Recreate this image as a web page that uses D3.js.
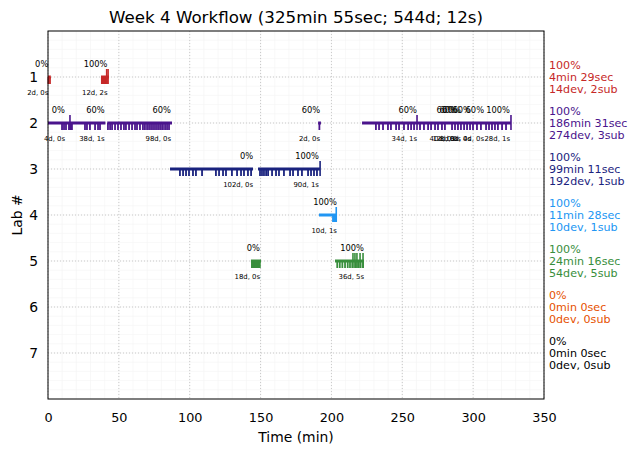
<!DOCTYPE html>
<html>
<head>
<meta charset="utf-8">
<script src="https://cdn.jsdelivr.net/npm/d3@7"></script>
<style>
  body { margin: 0; background: #fff; }
  text { font-family: "DejaVu Sans", sans-serif; }
</style>
</head>
<body>
<svg id="chart" width="637" height="453"></svg>
<script>
// ---------- data ----------
const labs = [1, 2, 3, 4, 5, 6, 7];
const labColors = ["#c62828", "#4a148c", "#1a237e", "#2196f3", "#388e3c", "#e65100", "#000000"];
const labPct = ["100%", "100%", "100%", "100%", "100%", "0%", "0%"];
const labTime = ["4min 29sec", "186min 31sec", "99min 11sec", "11min 28sec", "24min 16sec", "0min 0sec", "0min 0sec"];
const labWork = ["14dev, 2sub", "274dev, 3sub", "192dev, 1sub", "10dev, 1sub", "54dev, 5sub", "0dev, 0sub", "0dev, 0sub"];

const xTicks = [0, 50, 100, 150, 200, 250, 300, 350];
const yTicks = [1, 2, 3, 4, 5, 6, 7];

// sessions: [lab, start, end] (min)
const sessions = [
  [1, 0, 2], [1, 37.4, 43],
  [2, 0, 40.5], [2, 41.8, 87.5], [2, 190.6, 192.6], [2, 221.6, 326.7],
  [3, 86.1, 144.7], [3, 148.2, 191.9],
  [4, 191.2, 203.9],
  [5, 143.2, 150.3], [5, 202.5, 223.0]
];

// device events per lab (min)
const devices1 = [0.3, 1.4, 38.0, 38.6, 39.2, 39.8, 40.4, 41.0, 41.6];
const devices2 = [9.9, 11.3, 12.7, 14.8, 16.2, 16.9, 26.1, 27.5, 29.6, 33.2, 35.3, 36.7,
  42.3, 43.8, 45.2, 47.3, 49.4, 51.5, 53.6, 55.0, 57.2, 59.3, 61.4, 62.8, 64.9, 67.0, 68.4,
  69.9, 71.3, 72.7, 74.1, 75.5, 76.9, 78.3, 79.7, 81.1, 82.6, 84.0, 85.4, 191.5,
  231.4, 233.6, 236.4, 239.9, 242.0, 245.6, 247.7, 251.2, 254.1, 256.2, 258.3, 262.5, 265.3,
  268.2, 270.3, 273.1, 275.2, 278.0, 280.1, 285.1, 287.2, 289.3, 291.4, 293.6, 295.7, 297.8,
  299.9, 302.7, 305.5, 309.1, 311.2, 313.3, 315.4, 317.5, 320.4, 323.2];
const devices3 = [93.1, 95.3, 97.4, 99.5, 102.3, 104.4, 108.7, 118.5, 120.7, 123.5, 125.6,
  129.8, 133.4, 136.2, 138.3, 141.1, 143.3, 149.6, 151.0, 152.4, 153.9, 155.3, 158.1, 160.9,
  163.0, 166.5, 170.8, 172.9, 176.4, 179.2, 183.5, 185.6, 187.7, 189.8];
const devices4 = [201.1, 201.8, 202.5, 203.2];
const devices5 = [143.9, 144.6, 145.3, 146.0, 146.7, 147.4, 148.1, 148.8, 149.5,
  204.1, 205.9, 207.7, 209.6, 211.5, 213.1, 214.7, 217.1, 218.9, 220.6, 222.3];
const devices = [devices1, devices2, devices3, devices4, devices5, [], []];

// submissions per lab (min)
const submissions = [[41.4, 42.4], [15.5, 260.4, 326.7], [192.0], [203.4],
  [215.2, 216.6, 218.0, 220.2, 222.3], [], []];

// interval annotations: [lab, time, pct, counts]
const annotations = [
  [1, 0.2, "0%", "2d, 0s"], [1, 42.0, "100%", "12d, 2s"],
  [2, 12.0, "0%", "4d, 0s"], [2, 40.0, "60%", "38d, 1s"], [2, 86.8, "60%", "98d, 0s"],
  [2, 192.0, "60%", "2d, 0s"], [2, 260.4, "60%", "34d, 1s"], [2, 287.2, "60%", "40d, 0s"],
  [2, 289.3, "60%", "12d, 0s"], [2, 291.4, "60%", "8d, 0s"], [2, 298.5, "60%", "6d, 0s"],
  [2, 307.7, "60%", "4d, 0s"], [2, 326.0, "100%", "28d, 1s"],
  [3, 144.7, "0%", "102d, 0s"], [3, 191.2, "100%", "90d, 1s"],
  [4, 203.9, "100%", "10d, 1s"],
  [5, 149.6, "0%", "18d, 0s"], [5, 223.0, "100%", "36d, 5s"]
];

// ---------- drawing ----------
const svg = d3.select("#chart");
const L = 48, R = 544, T = 31, B = 399;
const x = d3.scaleLinear().domain([0, 350]).range([L, R]);
const y = d3.scaleLinear().domain([0, 8]).range([T, B]);

// minor grid
const g = svg.append("g");
g.selectAll(".mx").data(d3.range(0, 351, 10)).enter().append("line")
  .attr("x1", d => x(d)).attr("x2", d => x(d)).attr("y1", T).attr("y2", B)
  .attr("stroke", "#f3f3f3").attr("stroke-width", 0.6);
g.selectAll(".my").data(d3.range(0, 8.01, 0.2)).enter().append("line")
  .attr("y1", d => y(d)).attr("y2", d => y(d)).attr("x1", L).attr("x2", R)
  .attr("stroke", "#f3f3f3").attr("stroke-width", 0.6);

// major grid
g.selectAll(".gx").data(xTicks).enter().append("line")
  .attr("x1", d => x(d)).attr("x2", d => x(d)).attr("y1", T).attr("y2", B)
  .attr("stroke", "#bdbdbd").attr("stroke-width", 0.8).attr("stroke-dasharray", "1,2");
g.selectAll(".gy").data(yTicks).enter().append("line")
  .attr("y1", d => y(d)).attr("y2", d => y(d)).attr("x1", L).attr("x2", R)
  .attr("stroke", "#bdbdbd").attr("stroke-width", 0.8).attr("stroke-dasharray", "1,2");

// sessions
svg.append("g").selectAll("line").data(sessions).enter().append("line")
  .attr("x1", d => x(d[1])).attr("x2", d => x(d[2]))
  .attr("y1", d => y(d[0])).attr("y2", d => y(d[0]))
  .attr("stroke", d => labColors[d[0] - 1]).attr("stroke-width", 3);

// device ticks and submission ticks
labs.forEach((lab, i) => {
  svg.append("g").selectAll("line").data(devices[i]).enter().append("line")
    .attr("x1", d => x(d)).attr("x2", d => x(d))
    .attr("y1", y(lab)).attr("y2", y(lab) + 7)
    .attr("stroke", labColors[i]).attr("stroke-width", 1.8);
  svg.append("g").selectAll("line").data(submissions[i]).enter().append("line")
    .attr("x1", d => x(d)).attr("x2", d => x(d))
    .attr("y1", y(lab) - 8).attr("y2", y(lab) + 7)
    .attr("stroke", labColors[i]).attr("stroke-width", 1.6);
});

// annotations
const ag = svg.append("g");
ag.selectAll(".p").data(annotations).enter().append("text")
  .attr("x", d => x(d[1])).attr("y", d => y(d[0]) - 13)
  .attr("text-anchor", "end").attr("dominant-baseline", "central")
  .attr("font-size", 8.3).attr("fill", "#000").text(d => d[2]);
ag.selectAll(".c").data(annotations).enter().append("text")
  .attr("x", d => x(d[1])).attr("y", d => y(d[0]) + 16)
  .attr("text-anchor", "end").attr("dominant-baseline", "central")
  .attr("font-size", 6.9).attr("fill", "#000").text(d => d[3]);

// frame
svg.append("rect").attr("x", L).attr("y", T).attr("width", R - L).attr("height", B - T)
  .attr("fill", "none").attr("stroke", "#000").attr("stroke-width", 1);

// axes
const xAxis = svg.append("g").attr("transform", `translate(0,${B})`)
  .call(d3.axisBottom(x).tickValues(xTicks).tickSize(0).tickPadding(14).tickFormat(d3.format("d")));
xAxis.select(".domain").remove();
xAxis.selectAll("text").attr("font-size", 12.8).attr("font-family", "DejaVu Sans");
const yAxis = svg.append("g").attr("transform", `translate(${L},0)`)
  .call(d3.axisLeft(y).tickValues(yTicks).tickSize(0).tickPadding(10).tickFormat(d3.format("d")));
yAxis.select(".domain").remove();
yAxis.selectAll("text").attr("font-size", 13.9).attr("font-family", "DejaVu Sans");

// labels
svg.append("text").attr("x", (L + R) / 2).attr("y", 437).attr("text-anchor", "middle")
  .attr("dominant-baseline", "central").attr("font-size", 13.9).text("Time (min)");
svg.append("text").attr("transform", `translate(17,${(T + B) / 2}) rotate(-90)`)
  .attr("text-anchor", "middle").attr("dominant-baseline", "central")
  .attr("font-size", 13.9).text("Lab #");
svg.append("text").attr("x", (L + R) / 2).attr("y", 17).attr("text-anchor", "middle")
  .attr("dominant-baseline", "central").attr("font-size", 16.7)
  .text("Week 4 Workflow (325min 55sec; 544d; 12s)");

// right-side summaries
const sg = svg.append("g");
labs.forEach((lab, i) => {
  [labPct[i], labTime[i], labWork[i]].forEach((t, k) => {
    sg.append("text").attr("x", 549).attr("y", y(lab) + (k - 1) * 12)
      .attr("dominant-baseline", "central").attr("font-size", 11.1)
      .attr("fill", labColors[i]).text(t);
  });
});
</script>
</body>
</html>
